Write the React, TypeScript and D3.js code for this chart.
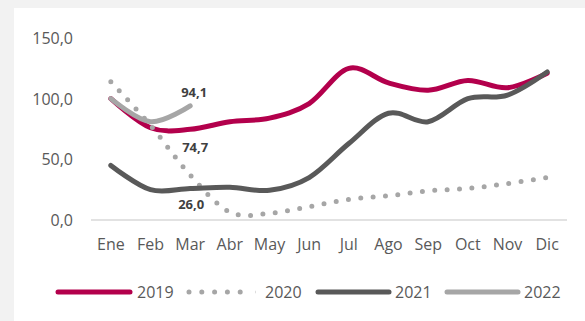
import React from "react";
import * as d3 from "d3";

const months = ["Ene", "Feb", "Mar", "Abr", "May", "Jun", "Jul", "Ago", "Sep", "Oct", "Nov", "Dic"];
const s2019 = [100, 76, 74.7, 81, 84, 96, 125, 113, 107, 115, 109, 121];
const s2020 = [114, 78, 37, 6.5, 5.5, 11, 17, 20, 24, 26, 30, 35];
const s2021 = [45, 25, 26.0, 27, 24.5, 35, 63, 88, 81, 100, 103, 122];
const s2022 = [100, 81, 94.1];
const yTicks = [0, 50, 100, 150];
const seriesNames = ["2019", "2020", "2021", "2022"];

const W = 585, H = 321;
const FONT = "'Open Sans', sans-serif";

export default function App() {
  const x = d3.scalePoint<string>().domain(months).range([91, 567]).padding(0.5);
  const y = d3.scaleLinear().domain([0, 150]).range([220, 38]);
  const line = d3
    .line<number>()
    .x((_, i) => x(months[i]) as number)
    .y((d) => y(d))
    .curve(d3.curveCardinal.tension(0));

  const fmt = (v: number) => v.toFixed(1).replace(".", ",");

  const series = [
    { name: seriesNames[0], data: s2019, color: "#b3004c", dash: undefined as string | undefined, w: 5 },
    { name: seriesNames[1], data: s2020, color: "#a6a6a6", dash: "0 12.4", w: 5 },
    { name: seriesNames[2], data: s2021, color: "#595959", dash: undefined, w: 5 },
    { name: seriesNames[3], data: s2022, color: "#a6a6a6", dash: undefined, w: 5 },
  ];

  const mar = "Mar";
  const labels = [
    { v: s2022[2], dx: 4, dy: -9 },
    { v: s2019[2], dx: 5, dy: 23 },
    { v: s2021[2], dx: 1, dy: 21 },
  ];

  const legendItems = [
    { x1: 58, x2: 130, tx: 137 },
    { x1: 189, x2: 253, tx: 265 },
    { x1: 318, x2: 389, tx: 395 },
    { x1: 447, x2: 518, tx: 524 },
  ];

  return (
    <svg
      width={W}
      height={H}
      style={{ position: "absolute", left: 0, top: 0, background: "#f2f2f2" }}
    >
      <rect x={14} y={8} width={W - 14} height={H - 8} fill="#ffffff" />
      <line x1={91} x2={567} y1={y(0)} y2={y(0)} stroke="#d9d9d9" strokeWidth={1.5} />
      {yTicks.map((t) => (
        <text
          key={t}
          x={73}
          y={y(t) + 6}
          textAnchor="end"
          fontFamily={FONT}
          fontSize={16}
          fill="#595959"
        >
          {fmt(t)}
        </text>
      ))}
      {months.map((m) => (
        <text
          key={m}
          x={x(m) as number}
          y={250}
          textAnchor="middle"
          fontFamily={FONT}
          fontSize={16}
          fill="#595959"
        >
          {m}
        </text>
      ))}
      {series.map((s) => (
        <path
          key={s.name}
          d={line(s.data) || ""}
          fill="none"
          stroke={s.color}
          strokeWidth={s.w}
          strokeLinecap="round"
          strokeLinejoin="round"
          strokeDasharray={s.dash}
        />
      ))}
      {labels.map((l, i) => (
        <text
          key={i}
          x={(x(mar) as number) + l.dx}
          y={y(l.v) + l.dy}
          textAnchor="middle"
          fontFamily={FONT}
          fontSize={13}
          fontWeight="bold"
          fill="#404040"
        >
          {fmt(l.v)}
        </text>
      ))}
      {series.map((s, i) => {
        const li = legendItems[i];
        return (
          <g key={s.name}>
            <line
              x1={li.x1}
              x2={li.x2}
              y1={292}
              y2={292}
              stroke={s.color}
              strokeWidth={5}
              strokeLinecap="round"
              strokeDasharray={s.dash ? "0 12.8" : undefined}
            />
            <text x={li.tx} y={297.5} fontFamily={FONT} fontSize={16} fill="#595959">
              {s.name}
            </text>
          </g>
        );
      })}
    </svg>
  );
}
